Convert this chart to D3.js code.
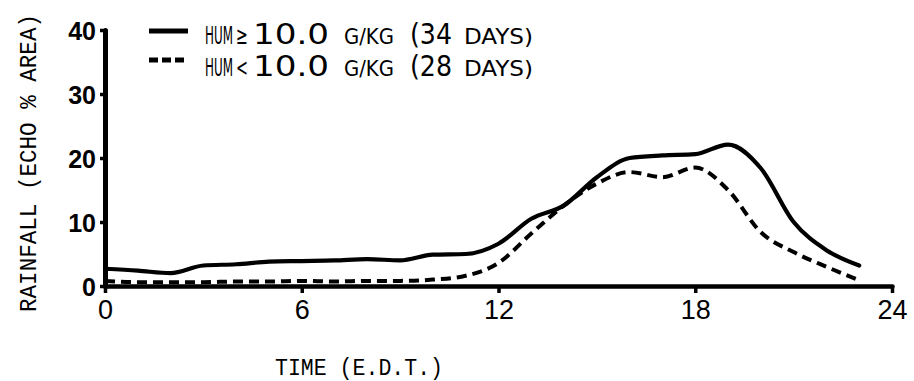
<!DOCTYPE html>
<html>
<head>
<meta charset="utf-8">
<script src="https://cdn.jsdelivr.net/npm/d3@7"></script>
<style>
  html, body { margin: 0; padding: 0; background: #fff; }
  svg { display: block; }
</style>
</head>
<body>
<svg id="chart" width="914" height="381"></svg>
<script>
// ---- data ----
const hours = [0,1,2,3,4,5,6,7,8,9,10,11,12,13,14,15,16,17,18,19,20,21,22,23];
const humHigh = [2.7,2.4,2.0,3.2,3.4,3.8,3.9,4.0,4.2,4.0,4.9,5.0,6.6,10.5,12.6,17.0,20.0,20.4,20.6,22.1,18.4,10.0,5.6,3.2];
const humLow  = [0.8,0.6,0.6,0.6,0.7,0.7,0.8,0.7,0.8,0.8,1.0,1.6,3.6,8.2,12.6,16.0,17.8,17.0,18.5,15.0,8.4,5.3,3.0,0.9];
const xTicks = [0,6,12,18,24];
const yTicks = [0,10,20,30,40];
const seriesNames = ["HUM\u226510.0 G/KG (34 DAYS)", "HUM < 10.0 G/KG (28 DAYS)"];
const legendParts = [
  ["HUM", "\u2265", "10.0", "G/KG", "(34", "DAYS)"],
  ["HUM", "<", "10.0", "G/KG", "(28", "DAYS)"]
];

// ---- layout ----
const svg = d3.select("#chart");
const x = d3.scaleLinear().domain([0,24]).range([105,892]);
const y = d3.scaleLinear().domain([0,40]).range([286,30]);
const ink = "#000";

// axes
const xAxis = d3.axisBottom(x).tickValues(xTicks).tickSize(7).tickPadding(6).tickSizeOuter(0);
const yAxis = d3.axisLeft(y).tickValues(yTicks).tickSize(5).tickPadding(4).tickSizeOuter(0);

const gx = svg.append("g").attr("transform", `translate(0,${y(0)})`).call(xAxis);
gx.select(".domain").attr("stroke", ink).attr("stroke-width", 4.5).attr("stroke-linecap","round");
gx.selectAll(".tick line").attr("stroke", ink).attr("stroke-width", 3.5);
gx.selectAll(".tick text").attr("fill", ink)
  .attr("font-family", "'Liberation Sans', Arial, sans-serif")
  .attr("font-size", 27).attr("dy", "0.75em");

const gy = svg.append("g").attr("transform", `translate(${x(0)},0)`).call(yAxis);
gy.select(".domain").attr("stroke", ink).attr("stroke-width", 5).attr("stroke-linecap","round");
gy.selectAll(".tick line").attr("stroke", ink).attr("stroke-width", 3.5);
gy.selectAll(".tick text").attr("fill", ink)
  .attr("font-family", "'Liberation Sans', Arial, sans-serif")
  .attr("font-weight", "bold").attr("font-size", 25).attr("dy", "0.36em");

// lines
const line = d3.line().x((d,i) => x(hours[i])).y(d => y(d)).curve(d3.curveMonotoneX);
svg.append("path").datum(humLow).attr("d", line)
  .attr("fill","none").attr("stroke", ink).attr("stroke-width", 4)
  .attr("stroke-dasharray", "10,6");
svg.append("path").datum(humHigh).attr("d", line)
  .attr("fill","none").attr("stroke", ink).attr("stroke-width", 4.2)
  .attr("stroke-linejoin","round").attr("stroke-linecap","round");

// axis titles
svg.append("text")
  .attr("transform", "translate(36,163) rotate(-90)")
  .attr("text-anchor", "middle")
  .attr("font-family", "'Liberation Mono', 'DejaVu Sans Mono', monospace")
  .attr("font-size", 23)
  .attr("textLength", 298).attr("lengthAdjust", "spacingAndGlyphs")
  .attr("fill", ink)
  .text("RAINFALL (ECHO % AREA)");

svg.append("text")
  .attr("x", 275).attr("y", 375)
  .attr("font-family", "'Liberation Mono', 'DejaVu Sans Mono', monospace")
  .attr("font-size", 24)
  .attr("textLength", 168).attr("lengthAdjust", "spacingAndGlyphs")
  .attr("fill", ink)
  .text("TIME (E.D.T.)");

// legend
const legY = [31, 60];
const legBase = [44, 76];
const partX = [205, 236, 253, 344, 410, 464];
const partW = [28, 12, 76, 50, 42, 69];
const partSize = [24, 25, 29, 22, 29, 22];
const leg = svg.append("g");
seriesNames.forEach((name, i) => {
  leg.append("line")
    .attr("x1", 149).attr("x2", 188).attr("y1", legY[i]).attr("y2", legY[i])
    .attr("stroke", ink).attr("stroke-width", 5)
    .attr("stroke-dasharray", i === 1 ? "9,4" : null);
  legendParts[i].forEach((p, j) => {
    const t = leg.append("text")
      .attr("x", 0).attr("y", 0)
      .attr("font-family", "'Liberation Sans Narrow', 'DejaVu Sans Condensed', sans-serif")
      .attr("font-size", partSize[j])
      .attr("fill", ink)
      .text(p);
    const w = t.node().getComputedTextLength();
    const s = partW[j] / w;
    t.attr("transform", `translate(${partX[j]},${legBase[i]}) scale(${s},1)`);
  });
});
</script>
</body>
</html>
